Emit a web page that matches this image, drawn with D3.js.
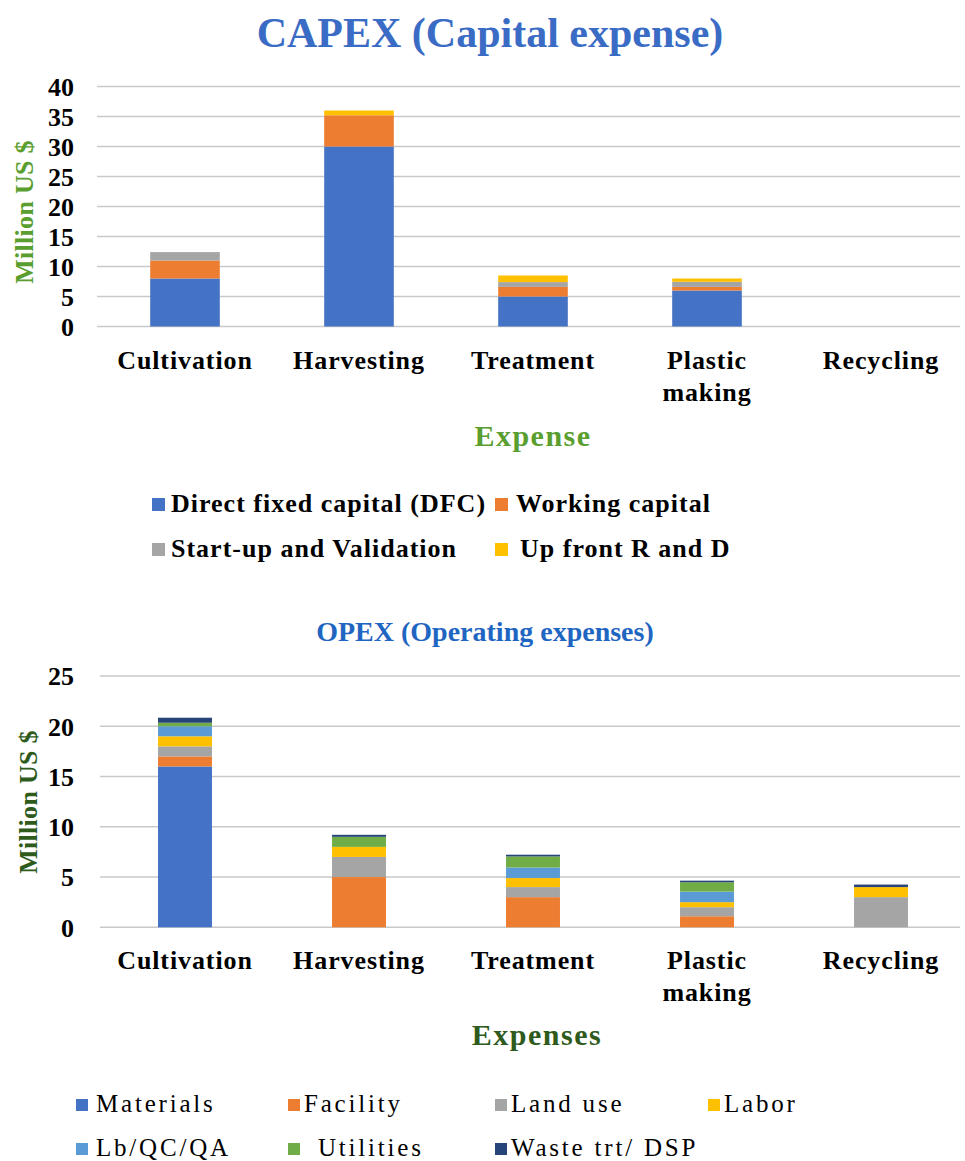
<!DOCTYPE html>
<html>
<head>
<meta charset="utf-8">
<script src="https://cdn.jsdelivr.net/npm/d3@7/dist/d3.min.js"></script>
<style>
  html, body { margin: 0; padding: 0; background: #fff; }
  svg { display: block; }
</style>
</head>
<body>
<svg id="chart" width="965" height="1161"></svg>
<script>
// ---------- DATA ----------
const categories = ["Cultivation", "Harvesting", "Treatment", "Plastic making", "Recycling"];

const capexSeries = ["Direct fixed capital (DFC)", "Working capital", "Start-up and Validation", "Up front R and D"];
const capexDFC     = [8,   30,  5,   6,    0];
const capexWorking = [3,   5.2, 1.6, 0.6,  0];
const capexStartup = [1.4, 0,   0.8, 0.85, 0];
const capexRD      = [0,   0.8, 1.1, 0.55, 0];
const capexTicks   = [0, 5, 10, 15, 20, 25, 30, 35, 40];

const opexSeries = ["Materials", "Facility", "Land use", "Labor", "Lb/QC/QA", "Utilities", "Waste trt/ DSP"];
const opexMaterials = [16,   0,   0,    0,    0];
const opexFacility  = [1,    5,   3,    1.1,  0];
const opexLand      = [1,    2,   1,    0.9,  3];
const opexLabor     = [1,    1,   0.9,  0.5,  1];
const opexLb        = [1,    0,   1.05, 1.05, 0];
const opexUtilities = [0.35, 1,   1.1,  0.93, 0];
const opexWaste     = [0.5,  0.2, 0.17, 0.16, 0.25];
const opexTicks     = [0, 5, 10, 15, 20, 25];

// ---------- STYLE ----------
const FONT = "'Liberation Serif', 'Times New Roman', Tinos, 'DejaVu Serif', serif";
const capexColors = ["#4472C4", "#ED7D31", "#A5A5A5", "#FFC000"];
const opexColors  = ["#4472C4", "#ED7D31", "#A5A5A5", "#FFC000", "#5B9BD5", "#70AD47", "#264478"];

const svg = d3.select("#chart").style("font-family", FONT);

function buildRows(seriesNames, arrays) {
  return categories.map((c, i) => {
    const row = { cat: c };
    seriesNames.forEach((s, j) => row[s] = arrays[j][i]);
    return row;
  });
}

function txt(sel) { return sel.style("font-family", FONT); }

function drawPanel(cfg) {
  const g = svg.append("g");
  const x = d3.scaleBand().domain(categories).range([98, 968]).paddingInner(0).paddingOuter(0);
  const y = d3.scaleLinear().domain([0, cfg.max]).range([cfg.y0, cfg.y1]);

  // gridlines
  g.append("g").selectAll("line").data(cfg.ticks).join("line")
    .attr("x1", cfg.gridX0).attr("x2", 960)
    .attr("y1", d => y(d)).attr("y2", d => y(d))
    .attr("stroke", "#c9c9c9").attr("stroke-width", 1.5);

  // y axis labels via d3 axis
  const ay = g.append("g").attr("transform", "translate(74,0)")
    .call(d3.axisLeft(y).tickValues(cfg.ticks).tickSize(0).tickPadding(0));
  ay.attr("font-family", null).attr("font-size", null);
  ay.select(".domain").remove();
  txt(ay.selectAll("text"))
    .style("font-size", "26px").style("font-weight", "bold").attr("fill", "#000")
    .attr("dy", "0.34em");

  // stacked bars
  const rows = buildRows(cfg.series, cfg.arrays);
  const stack = d3.stack().keys(cfg.series)(rows);
  const bw = x.bandwidth() * cfg.barFrac;
  g.append("g").selectAll("g").data(stack).join("g")
    .attr("fill", (d, i) => cfg.colors[i])
    .selectAll("rect").data(d => d).join("rect")
    .attr("x", d => x(d.data.cat) + (x.bandwidth() - bw) / 2)
    .attr("width", bw)
    .attr("y", d => y(d[1]))
    .attr("height", d => Math.max(0, y(d[0]) - y(d[1])));

  // x labels
  const xl = txt(g.append("g").selectAll("text").data(categories).join("text"))
    .attr("text-anchor", "middle")
    .attr("x", d => x(d) + x.bandwidth() / 2)
    .attr("y", cfg.xLabelY)
    .style("font-size", "26px").style("font-weight", "bold")
    .style("letter-spacing", "0.9px").attr("fill", "#000");
  xl.each(function (d) {
    const parts = d === "Plastic making" ? ["Plastic", "making"] : [d];
    const t = d3.select(this);
    parts.forEach((p, k) => t.append("tspan").attr("x", t.attr("x")).attr("dy", k === 0 ? 0 : 32).text(p));
  });

  // title
  txt(g.append("text")).attr("x", cfg.titleX).attr("y", cfg.titleY).attr("text-anchor", "middle")
    .style("font-size", cfg.titleSize + "px").style("font-weight", "bold")
    .attr("fill", cfg.titleColor).text(cfg.title);

  // y title
  txt(g.append("text")).attr("transform", `translate(${cfg.yTitleX},${cfg.yTitleY}) rotate(-90)`)
    .attr("text-anchor", "middle")
    .style("font-size", "26px").style("font-weight", "bold").style("letter-spacing", "0.3px")
    .attr("fill", cfg.yTitleColor).text("Million US $");

  // x title
  txt(g.append("text")).attr("x", cfg.xTitleX).attr("y", cfg.xTitleY).attr("text-anchor", "middle")
    .style("font-size", "30px").style("font-weight", "bold").style("letter-spacing", "1.5px")
    .attr("fill", cfg.xTitleColor).text(cfg.xTitle);

  // legend
  const lg = g.append("g");
  cfg.series.forEach((s, i) => {
    const pos = cfg.legendPos[i];
    lg.append("rect").attr("x", pos[0]).attr("y", pos[1] - cfg.sq - 1).attr("width", cfg.sq).attr("height", cfg.sq)
      .attr("fill", cfg.colors[i]);
    txt(lg.append("text")).attr("x", pos[2]).attr("y", pos[1])
      .style("font-size", cfg.legendSize + "px").style("font-weight", cfg.legendWeight)
      .style("letter-spacing", cfg.legendSpacing)
      .attr("fill", "#000").text(s);
  });
}

drawPanel({
  series: capexSeries,
  arrays: [capexDFC, capexWorking, capexStartup, capexRD],
  colors: capexColors,
  max: 40, ticks: capexTicks, y0: 326.5, y1: 86.5, gridX0: 97,
  barFrac: 0.4,
  xLabelY: 369,
  title: "CAPEX (Capital expense)", titleX: 490, titleY: 47, titleSize: 42, titleColor: "#3B6CC5",
  yTitleX: 33, yTitleY: 212, yTitleColor: "#5A9E2F",
  xTitle: "Expense", xTitleX: 533, xTitleY: 446, xTitleColor: "#5A9E2F",
  legendPos: [[152, 512, 171], [495, 512, 516], [152, 557, 171], [495, 557, 520]],
  sq: 13, legendSize: 26, legendWeight: "bold", legendSpacing: "1px"
});

drawPanel({
  series: opexSeries,
  arrays: [opexMaterials, opexFacility, opexLand, opexLabor, opexLb, opexUtilities, opexWaste],
  colors: opexColors,
  max: 25, ticks: opexTicks, y0: 927.3, y1: 676, gridX0: 100,
  barFrac: 0.31,
  xLabelY: 969,
  title: "OPEX (Operating expenses)", titleX: 485, titleY: 641, titleSize: 28, titleColor: "#1F66C2",
  yTitleX: 37, yTitleY: 802, yTitleColor: "#2E5A1C",
  xTitle: "Expenses", xTitleX: 537, xTitleY: 1045, xTitleColor: "#2E5A1C",
  legendPos: [[76, 1112, 96], [288, 1112, 304], [495, 1112, 511], [708, 1112, 724],
              [76, 1156, 96], [288, 1156, 318], [495, 1156, 511]],
  sq: 12, legendSize: 25, legendWeight: "normal", legendSpacing: "2.8px"
});
</script>
</body>
</html>
